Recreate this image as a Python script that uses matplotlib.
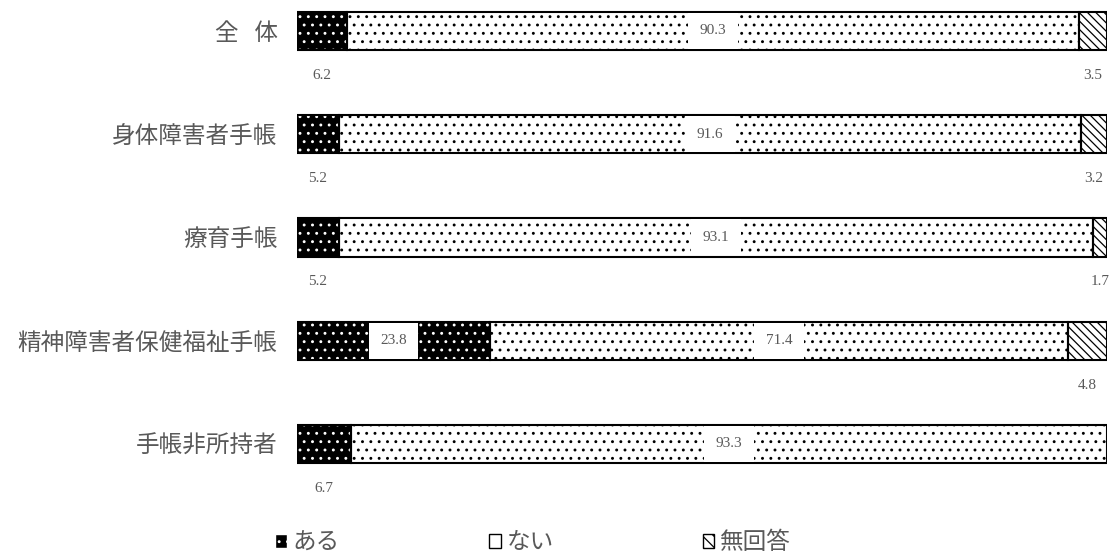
import matplotlib.pyplot as plt
from matplotlib.patches import Patch

plt.rcParams['font.family'] = ['Noto Sans CJK JP', 'DejaVu Sans']
plt.rcParams['hatch.linewidth'] = 0.9

# データ
categories = ["全   体", "身体障害者手帳", "療育手帳", "精神障害者保健福祉手帳", "手帳非所持者"]
aru = [6.2, 5.2, 5.2, 23.8, 6.7]
nai = [90.3, 91.6, 93.1, 71.4, 93.3]
mukaito = [3.5, 3.2, 1.7, 4.8, 0.0]
series_names = ["ある", "ない", "無回答"]

grey = "#595959"
num_font = "Liberation Serif"

fig = plt.figure(figsize=(11.13, 5.55), dpi=100)
ax = fig.add_axes([297 / 1113, 60 / 555, 810 / 1113, 495 / 555])

y = list(range(len(categories)))
h = 0.37

# ある: 黒地に白い点
ax.barh(y, aru, height=h, color="black", edgecolor="white", hatch="..", linewidth=0)
# ない: 白地に黒い点
ax.barh(y, nai, left=aru, height=h, color="white", edgecolor="black", hatch="..", linewidth=0)
# 無回答: 斜線
left3 = [a + n for a, n in zip(aru, nai)]
ax.barh(y, mukaito, left=left3, height=h, color="white", edgecolor="black",
        hatch="\\\\\\\\", linewidth=0)

# 枠線
ax.barh(y, aru, height=h, fill=False, edgecolor="black", linewidth=1.5)
ax.barh(y, nai, left=aru, height=h, fill=False, edgecolor="black", linewidth=1.5)
for i, m in enumerate(mukaito):
    if m > 0:
        ax.barh(i, m, left=left3[i], height=h, fill=False, edgecolor="black", linewidth=1.5)

box = dict(boxstyle="square,pad=0.75", facecolor="white", edgecolor="none")
below = 0.43
fs = 11
for i in y:
    # ない
    ax.text(aru[i] + nai[i] / 2, i, f"{nai[i]:.1f}", ha="center", va="center",
            fontsize=fs, color=grey, family=num_font, bbox=box)
    # ある
    if aru[i] > 15:
        ax.text(aru[i] / 2, i, f"{aru[i]:.1f}", ha="center", va="center",
                fontsize=fs, color=grey, family=num_font, bbox=box)
    else:
        ax.text(aru[i] / 2, i + below, f"{aru[i]:.1f}", ha="center", va="center",
                fontsize=fs, color=grey, family=num_font)
    # 無回答
    if mukaito[i] > 0:
        ax.text(left3[i] + mukaito[i] / 2, i + below, f"{mukaito[i]:.1f}", ha="center",
                va="center", fontsize=fs, color=grey, family=num_font)

ax.set_xlim(0, 100)
ax.set_ylim(4.495, -0.30)
ax.set_yticks(y)
ax.set_yticklabels(categories, fontsize=17, color=grey)
ax.tick_params(axis="y", length=0, pad=14)
ax.set_xticks([])
for s in ax.spines.values():
    s.set_visible(False)

handles = [
    Patch(facecolor="black", edgecolor="white", hatch="..", label=series_names[0]),
    Patch(facecolor="white", edgecolor="black", label=series_names[1]),
    Patch(facecolor="white", edgecolor="black", hatch="\\\\\\", label=series_names[2]),
]
leg = fig.legend(handles=handles, loc="center", bbox_to_anchor=(0.479, 0.022), ncol=3,
                 frameon=False, fontsize=17, handlelength=0.5, handleheight=0.5,
                 handletextpad=0.25, columnspacing=6.3)
for t in leg.get_texts():
    t.set_color(grey)

fig.savefig("out.png", dpi=100)
